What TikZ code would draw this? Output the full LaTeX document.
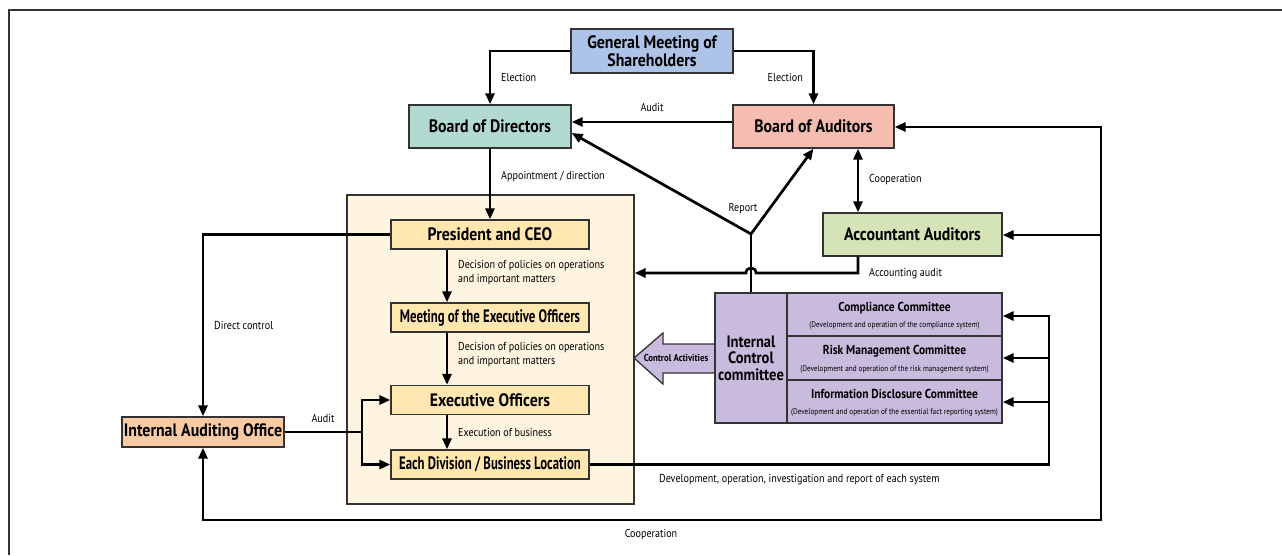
\documentclass[tikz,border=0pt]{standalone}
\usepackage{fontspec}
\setmainfont{PT Sans}[FakeStretch=0.88]
\newfontfamily\narfam{PT Sans}[FakeStretch=0.71]
\usetikzlibrary{arrows.meta}
\definecolor{gmc}{HTML}{ADC3E8}
\definecolor{bodc}{HTML}{B2DAD1}
\definecolor{boac}{HTML}{F5BCB0}
\definecolor{aac}{HTML}{D5E4B7}
\definecolor{ybc}{HTML}{FEF4DF}
\definecolor{offc}{HTML}{FFE7AF}
\definecolor{iaoc}{HTML}{FACBA2}
\definecolor{icc}{HTML}{C8BBDD}
\definecolor{bordc}{HTML}{333333}
\newcommand{\bigf}{\fontsize{18}{18.5}\selectfont\bfseries}
\newcommand{\narf}{\narfam\fontsize{18}{18.5}\selectfont\bfseries}
\newcommand{\lblf}{\fontsize{11.5}{14}\selectfont}
\newcommand{\titf}{\fontsize{13}{14}\selectfont\bfseries}
\newcommand{\subf}{\fontsize{8.2}{10}\selectfont}
\begin{document}
\begin{tikzpicture}[x=1pt,y=-1pt,
  box/.style={draw=bordc, line width=1.3pt, inner sep=0pt, align=center, font=\bigf},
  con/.style={line width=2.7pt, draw=black},
  arr/.style={con, -{Triangle[length=11pt,width=9pt]}},
  lbl/.style={font=\lblf, inner sep=0pt, align=left}]
\useasboundingbox (0,0) rectangle (1282,555);
% frame
\draw[line width=1.6pt, draw=bordc] (1282,10) -- (9,10) -- (9,555);
% yellow container
\node[draw=bordc, line width=1.3pt, fill=ybc, minimum width=287pt, minimum height=309pt, inner sep=0pt] (yb) at (490.5,349.5) {};
% boxes
\node[box, fill=gmc, minimum width=162pt, minimum height=44pt] (gm) at (652,51) {General Meeting of\\Shareholders};
\node[box, fill=bodc, minimum width=162pt, minimum height=43pt] (bod) at (490,126.5) {Board of Directors};
\node[box, fill=boac, minimum width=161pt, minimum height=43pt] (boa) at (813.5,126.5) {Board of Auditors};
\node[box, fill=aac, minimum width=179pt, minimum height=43pt] (aa) at (912.5,234.5) {Accountant Auditors};
\node[box, fill=offc, minimum width=198pt, minimum height=29pt] (pres) at (490,234.5) {President and CEO};
\node[box, fill=offc, minimum width=198pt, minimum height=29pt, font=\narf] (meet) at (490,317.5) {Meeting of the Executive Officers};
\node[box, fill=offc, minimum width=198pt, minimum height=29pt] (exec) at (490,400) {Executive Officers};
\node[box, fill=offc, minimum width=198pt, minimum height=29pt, font=\narf] (ed) at (490,464.5) {Each Division / Business Location};
\node[box, fill=iaoc, minimum width=162pt, minimum height=30pt] (iao) at (203,432) {Internal Auditing Office};
% internal control
\draw[draw=bordc, line width=1.3pt, fill=icc] (634,358) -- (663,333) -- (663,344) -- (716,344) -- (716,373) -- (663,373) -- (663,384) -- cycle;
\node[font=\fontsize{10}{12}\selectfont\bfseries, inner sep=0pt] (ca) at (676,358) {Control Activities};
\node[box, fill=icc, minimum width=72pt, minimum height=130pt, font=\fontsize{16.5}{16.5}\selectfont\bfseries] (ic) at (751,358) {Internal\\Control\\committee};
\node[box, fill=icc, minimum width=215pt, minimum height=43pt] (cc) at (894.5,314.5) {};
\node[box, fill=icc, minimum width=215pt, minimum height=44pt] (rm) at (894.5,358) {};
\node[box, fill=icc, minimum width=215pt, minimum height=43pt] (id) at (894.5,401.5) {};
\node[font=\titf, inner sep=0pt] (cct) at (894.5,308) {Compliance Committee};
\node[font=\subf, inner sep=0pt] (ccs) at (894.5,325) {(Development and operation of the compliance system)};
\node[font=\titf, inner sep=0pt] (rmt) at (894.5,351) {Risk Management Committee};
\node[font=\subf, inner sep=0pt] (rms) at (894.5,369) {(Development and operation of the risk management system)};
\node[font=\titf, inner sep=0pt] (idt) at (894.5,394) {Information Disclosure Committee};
\node[font=\subf, inner sep=0pt] (ids) at (894.5,412) {(Development and operation of the essential fact reporting system)};
% connectors
\draw[arr] (gm.west) -| (bod.north);
\draw[arr] (gm.east) -| (boa.north);
\node[lbl, anchor=west] (el1) at (501,77) {Election};
\node[lbl, anchor=east] (el2) at (803,77) {Election};
\draw[arr] (boa.west |- 0,122) -- (bod.east |- 0,122);
\node[lbl] (au1) at (652,107) {Audit};
\draw[arr] (bod.south) -- (pres.north);
\node[lbl, anchor=west] (apd) at (501,177) {Appointment / direction};
\draw[arr] (pres.south -| 447,0) -- (meet.north -| 447,0);
\node[lbl, anchor=west] (dp1) at (458,273) {Decision of policies on operations\\and important matters};
\draw[arr] (meet.south -| 447,0) -- (exec.north -| 447,0);
\node[lbl, anchor=west] (dp2) at (458,355) {Decision of policies on operations\\and important matters};
\draw[arr] (exec.south -| 447,0) -- (ed.north -| 447,0);
\node[lbl, anchor=west] (eob) at (458,432) {Execution of business};
\draw[arr] (pres.west) -| (iao.north);
\node[lbl, anchor=west] (dc) at (214,325) {Direct control};
\coordinate (ab) at (362,432);
\draw[con] (iao.east) -- (ab);
\draw[arr] (ab) |- (exec.west);
\draw[arr] (ab) |- (ed.west);
\node[lbl] (au2) at (323,418) {Audit};
% report
\coordinate (j) at (751,234);
\draw[con] (ic.north) -- (j);
\draw[arr] (j) -- (bod.east |- 0,133);
\draw[arr] (j) -- (boa.south);
\node[lbl] (rep) at (743,209) {Report};
% cooperation BoA-AA
\draw[con, {Triangle[length=11pt,width=9pt]}-{Triangle[length=11pt,width=9pt]}] (boa.south -| 858,0) -- (aa.north -| 858,0);
\node[lbl, anchor=west] (coop1) at (869,180) {Cooperation};
% accounting audit
\draw[arr] (aa.south -| 858,0) -- (858,273) -- (756,273) .. controls (756,266.3) and (746,266.3) .. (746,273) -- (yb.east |- 0,273);
\node[lbl, anchor=west] (acc) at (869,274) {Accounting audit};
% right loop
\coordinate (r1) at (1101,127);
\coordinate (r2) at (1101,235);
\coordinate (r3) at (1101,520);
\coordinate (r4) at (203,520);
\draw[con, {Triangle[length=11pt,width=9pt]}-{Triangle[length=11pt,width=9pt]}] (boa.east |- r1) -- (r1) -- (r3) -- (r4) -- (iao.south);
\draw[arr] (r2) -- (aa.east |- r2);
\node[lbl] (coop2) at (651,535) {Cooperation};
% development line
\draw[arr] (ed.east) -| (1049,316) -- (cc.east |- 0,316);
\draw[arr] (1049,358) -- (rm.east |- 0,358);
\draw[arr] (1049,402) -- (id.east |- 0,402);
\node[lbl, anchor=west] (dev) at (659,480) {Development, operation, investigation and report of each system};
\end{tikzpicture}
\end{document}
